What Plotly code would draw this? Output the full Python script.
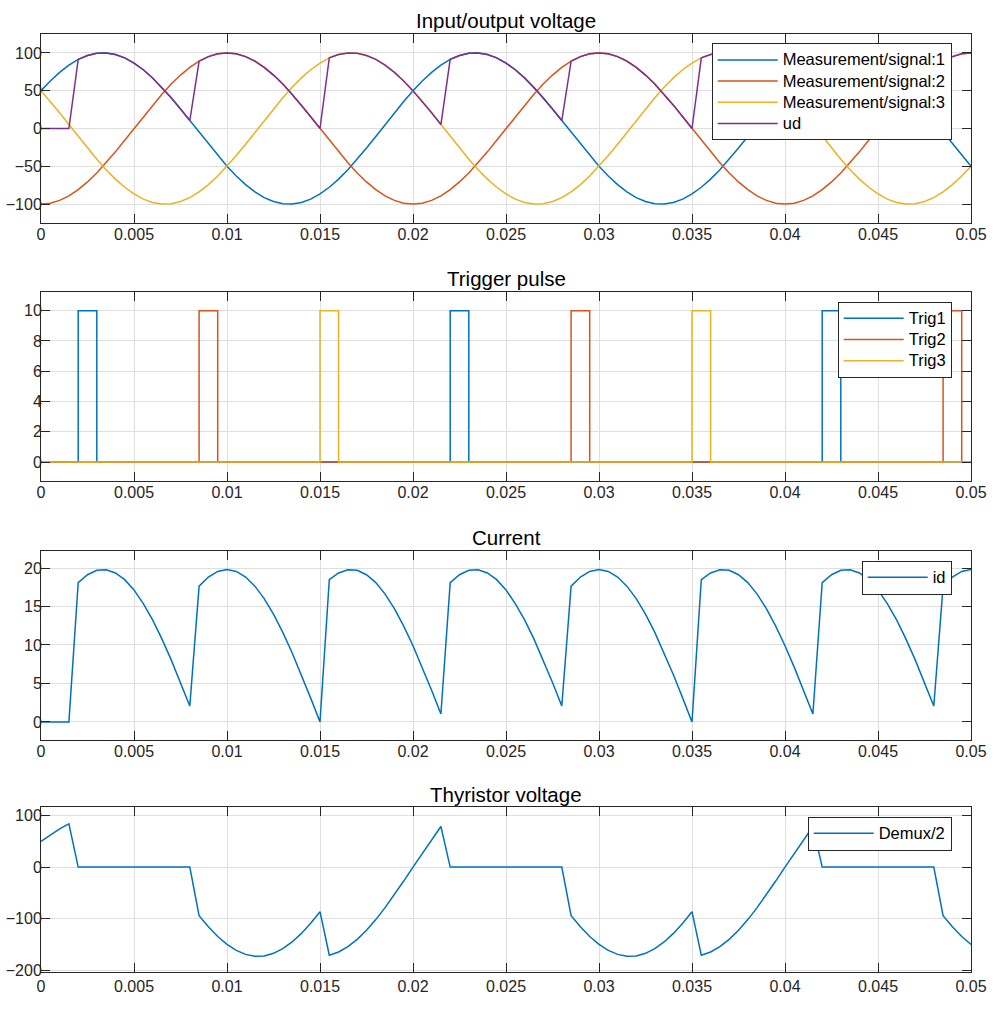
import plotly.graph_objects as go

# ---------------- data (sample time 0.0005 s) ----------------
t = [0.0, 0.0005, 0.001, 0.0015, 0.002, 0.0025, 0.003, 0.0035, 0.004, 0.0045,
     0.005, 0.0055, 0.006, 0.0065, 0.007, 0.0075, 0.008, 0.0085, 0.009, 0.0095,
     0.01, 0.0105, 0.011, 0.0115, 0.012, 0.0125, 0.013, 0.0135, 0.014, 0.0145,
     0.015, 0.0155, 0.016, 0.0165, 0.017, 0.0175, 0.018, 0.0185, 0.019, 0.0195,
     0.02, 0.0205, 0.021, 0.0215, 0.022, 0.0225, 0.023, 0.0235, 0.024, 0.0245,
     0.025, 0.0255, 0.026, 0.0265, 0.027, 0.0275, 0.028, 0.0285, 0.029, 0.0295,
     0.03, 0.0305, 0.031, 0.0315, 0.032, 0.0325, 0.033, 0.0335, 0.034, 0.0345,
     0.035, 0.0355, 0.036, 0.0365, 0.037, 0.0375, 0.038, 0.0385, 0.039, 0.0395,
     0.04, 0.0405, 0.041, 0.0415, 0.042, 0.0425, 0.043, 0.0435, 0.044, 0.0445,
     0.045, 0.0455, 0.046, 0.0465, 0.047, 0.0475, 0.048, 0.0485, 0.049, 0.0495,
     0.05]

sig1 = [50.0, 62.9, 74.3, 83.9, 91.4, 96.6, 99.5, 99.9, 97.8, 93.4,
        86.6, 77.7, 66.9, 54.5, 40.7, 25.9, 10.5, -5.2, -20.8, -35.8,
        -50.0, -62.9, -74.3, -83.9, -91.4, -96.6, -99.5, -99.9, -97.8, -93.4,
        -86.6, -77.7, -66.9, -54.5, -40.7, -25.9, -10.5, 5.2, 20.8, 35.8,
        50.0, 62.9, 74.3, 83.9, 91.4, 96.6, 99.5, 99.9, 97.8, 93.4,
        86.6, 77.7, 66.9, 54.5, 40.7, 25.9, 10.5, -5.2, -20.8, -35.8,
        -50.0, -62.9, -74.3, -83.9, -91.4, -96.6, -99.5, -99.9, -97.8, -93.4,
        -86.6, -77.7, -66.9, -54.5, -40.7, -25.9, -10.5, 5.2, 20.8, 35.8,
        50.0, 62.9, 74.3, 83.9, 91.4, 96.6, 99.5, 99.9, 97.8, 93.4,
        86.6, 77.7, 66.9, 54.5, 40.7, 25.9, 10.5, -5.2, -20.8, -35.8,
        -50.0]

sig2 = [-100.0, -98.8, -95.1, -89.1, -80.9, -70.7, -58.8, -45.4, -30.9, -15.6,
        0.0, 15.6, 30.9, 45.4, 58.8, 70.7, 80.9, 89.1, 95.1, 98.8,
        100.0, 98.8, 95.1, 89.1, 80.9, 70.7, 58.8, 45.4, 30.9, 15.6,
        0.0, -15.6, -30.9, -45.4, -58.8, -70.7, -80.9, -89.1, -95.1, -98.8,
        -100.0, -98.8, -95.1, -89.1, -80.9, -70.7, -58.8, -45.4, -30.9, -15.6,
        0.0, 15.6, 30.9, 45.4, 58.8, 70.7, 80.9, 89.1, 95.1, 98.8,
        100.0, 98.8, 95.1, 89.1, 80.9, 70.7, 58.8, 45.4, 30.9, 15.6,
        0.0, -15.6, -30.9, -45.4, -58.8, -70.7, -80.9, -89.1, -95.1, -98.8,
        -100.0, -98.8, -95.1, -89.1, -80.9, -70.7, -58.8, -45.4, -30.9, -15.6,
        0.0, 15.6, 30.9, 45.4, 58.8, 70.7, 80.9, 89.1, 95.1, 98.8,
        100.0]

sig3 = [50.0, 35.8, 20.8, 5.2, -10.5, -25.9, -40.7, -54.5, -66.9, -77.7,
        -86.6, -93.4, -97.8, -99.9, -99.5, -96.6, -91.4, -83.9, -74.3, -62.9,
        -50.0, -35.8, -20.8, -5.2, 10.5, 25.9, 40.7, 54.5, 66.9, 77.7,
        86.6, 93.4, 97.8, 99.9, 99.5, 96.6, 91.4, 83.9, 74.3, 62.9,
        50.0, 35.8, 20.8, 5.2, -10.5, -25.9, -40.7, -54.5, -66.9, -77.7,
        -86.6, -93.4, -97.8, -99.9, -99.5, -96.6, -91.4, -83.9, -74.3, -62.9,
        -50.0, -35.8, -20.8, -5.2, 10.5, 25.9, 40.7, 54.5, 66.9, 77.7,
        86.6, 93.4, 97.8, 99.9, 99.5, 96.6, 91.4, 83.9, 74.3, 62.9,
        50.0, 35.8, 20.8, 5.2, -10.5, -25.9, -40.7, -54.5, -66.9, -77.7,
        -86.6, -93.4, -97.8, -99.9, -99.5, -96.6, -91.4, -83.9, -74.3, -62.9,
        -50.0]

ud = [0.0, 0.0, 0.0, 0.0,
      91.4, 96.6, 99.5, 99.9, 97.8, 93.4, 86.6, 77.7, 66.9, 54.5, 40.7, 25.9, 10.5,
      89.1, 95.1, 98.8, 100.0, 98.8, 95.1, 89.1, 80.9, 70.7, 58.8, 45.4, 30.9, 15.6, 0.0,
      93.4, 97.8, 99.9, 99.5, 96.6, 91.4, 83.9, 74.3, 62.9, 50.0, 35.8, 20.8, 5.2,
      91.4, 96.6, 99.5, 99.9, 97.8, 93.4, 86.6, 77.7, 66.9, 54.5, 40.7, 25.9, 10.5,
      89.1, 95.1, 98.8, 100.0, 98.8, 95.1, 89.1, 80.9, 70.7, 58.8, 45.4, 30.9, 15.6, 0.0,
      93.4, 97.8, 99.9, 99.5, 96.6, 91.4, 83.9, 74.3, 62.9, 50.0, 35.8, 20.8, 5.2,
      91.4, 96.6, 99.5, 99.9, 97.8, 93.4, 86.6, 77.7, 66.9, 54.5, 40.7, 25.9, 10.5,
      89.1, 95.1, 98.8, 100.0]

trig1_t = [0.0, 0.002, 0.003, 0.022, 0.023, 0.042, 0.043, 0.05]
trig1_v = [0, 10, 0, 10, 0, 10, 0, 0]
trig2_t = [0.0, 0.0085, 0.0095, 0.0285, 0.0295, 0.0485, 0.0495, 0.05]
trig2_v = [0, 10, 0, 10, 0, 10, 0, 0]
trig3_t = [0.0, 0.015, 0.016, 0.035, 0.036, 0.05]
trig3_v = [0, 10, 0, 10, 0, 0]

id_ = [0.0, 0.0, 0.0, 0.0,
       18.1, 19.13, 19.7, 19.78, 19.36, 18.49, 17.15, 15.38, 13.25, 10.79, 8.06, 5.13, 2.08,
       17.64, 18.83, 19.56, 19.8, 19.56, 18.83, 17.64, 16.02, 14.0, 11.64, 8.99, 6.12, 3.09, 0.0,
       18.49, 19.36, 19.78, 19.7, 19.13, 18.1, 16.61, 14.71, 12.45, 9.9, 7.09, 4.12, 1.03,
       18.1, 19.13, 19.7, 19.78, 19.36, 18.49, 17.15, 15.38, 13.25, 10.79, 8.06, 5.13, 2.08,
       17.64, 18.83, 19.56, 19.8, 19.56, 18.83, 17.64, 16.02, 14.0, 11.64, 8.99, 6.12, 3.09, 0.0,
       18.49, 19.36, 19.78, 19.7, 19.13, 18.1, 16.61, 14.71, 12.45, 9.9, 7.09, 4.12, 1.03,
       18.1, 19.13, 19.7, 19.78, 19.36, 18.49, 17.15, 15.38, 13.25, 10.79, 8.06, 5.13, 2.08,
       17.64, 18.83, 19.56, 19.8]

vthy = [50.0, 62.9, 74.3, 83.9,
        0, 0, 0, 0, 0, 0, 0, 0, 0, 0, 0, 0, 0,
        -94.3, -115.9, -134.6, -150.0, -161.7, -169.4, -173.0, -172.3, -167.3, -158.3, -145.3, -128.7, -109.0, -86.6,
        -171.1, -164.7, -154.4, -140.2, -122.5, -101.9, -78.7, -53.5, -27.1, 0.0, 27.1, 53.5, 78.7,
        0, 0, 0, 0, 0, 0, 0, 0, 0, 0, 0, 0, 0,
        -94.3, -115.9, -134.6, -150.0, -161.7, -169.4, -173.0, -172.3, -167.3, -158.3, -145.3, -128.7, -109.0, -86.6,
        -171.1, -164.7, -154.4, -140.2, -122.5, -101.9, -78.7, -53.5, -27.1, 0.0, 27.1, 53.5, 78.7,
        0, 0, 0, 0, 0, 0, 0, 0, 0, 0, 0, 0, 0,
        -94.3, -115.9, -134.6, -150.0]

x_ticks = [0, 0.005, 0.01, 0.015, 0.02, 0.025, 0.03, 0.035, 0.04, 0.045, 0.05]
x_ticktext = ["0", "0.005", "0.01", "0.015", "0.02", "0.025", "0.03", "0.035", "0.04", "0.045", "0.05"]
titles = ["Input/output voltage", "Trigger pulse", "Current", "Thyristor voltage"]

# ---------------- style ----------------
C1, C2, C3, C4 = "#0072BD", "#D95319", "#EDB120", "#7E2F8E"
FONT = "Liberation Sans, Arial, Helvetica, sans-serif"
AX = "#262626"
GRID = "#dfdfdf"
LW = 1.5
W, H = 1003, 1031
LEGFS = 16.5


def lbl(name):
    return '<span style="font-size:%spx">%s</span>' % (LEGFS, name)


fig = go.Figure()


def add(x, y, name, color, ax, leg, shape="linear"):
    fig.add_trace(go.Scatter(x=x, y=y, name=lbl(name), mode="lines",
                             line=dict(color=color, width=LW, shape=shape),
                             xaxis="x" + ("" if ax == 1 else str(ax)),
                             yaxis="y" + ("" if ax == 1 else str(ax)),
                             legend=leg))


add(t, sig1, "Measurement/signal:1", C1, 1, "legend")
add(t, sig2, "Measurement/signal:2", C2, 1, "legend")
add(t, sig3, "Measurement/signal:3", C3, 1, "legend")
add(t, ud, "ud", C4, 1, "legend")
add(trig1_t, trig1_v, "Trig1", C1, 2, "legend2", "hv")
add(trig2_t, trig2_v, "Trig2", C2, 2, "legend2", "hv")
add(trig3_t, trig3_v, "Trig3", C3, 2, "legend2", "hv")
add(t, id_, "id", C1, 3, "legend3")
add(t, vthy, "Demux/2", C1, 4, "legend4")

# page pixel geometry of the four axes boxes (top, bottom)
boxes = [(34, 223), (291.7, 481), (550.7, 740), (807.3, 971.7)]
xl, xr = 41, 971
yranges = [[-125, 125], [-1.25, 11.25], [-2.35, 22.25], [-203, 116]]
yticks = [[-100, -50, 0, 50, 100], [0, 2, 4, 6, 8, 10], [0, 5, 10, 15, 20], [-200, -100, 0, 100]]
title_y = [20.5, 278.5, 537.5, 794.5]
legend_top = [43.3, 301.7, 560.7, 816.7]
legend_right = 951.7
x_standoff = [-3, -3, -3, 0]


def px(v):
    return v / W


def py(v):
    return 1 - v / H


layout = dict(width=W, height=H, margin=dict(l=0, r=0, t=0, b=0, autoexpand=False),
              paper_bgcolor="white", plot_bgcolor="white",
              font=dict(family=FONT, color=AX), annotations=[])

for i in range(4):
    s = "" if i == 0 else str(i + 1)
    top, bot = boxes[i]
    common = dict(showline=True, linecolor=AX, linewidth=1, mirror="ticks",
                  ticks="inside", ticklen=9, tickwidth=1, tickcolor=AX,
                  showgrid=True, gridcolor=GRID, gridwidth=1, zeroline=False,
                  automargin=False,
                  tickfont=dict(family=FONT, size=16, color=AX))
    layout["xaxis" + s] = dict(common, domain=[px(xl), px(xr)], range=[0, 0.05],
                               tickvals=x_ticks, ticktext=x_ticktext,
                               ticklabelstandoff=x_standoff[i], anchor="y" + s)
    layout["yaxis" + s] = dict(common, domain=[py(bot), py(top)],
                               range=yranges[i], tickvals=yticks[i],
                               ticklabelstandoff=-5, anchor="x" + s)
    layout["legend" + s] = dict(
        x=px(legend_right), y=py(legend_top[i]), xanchor="right", yanchor="top",
        xref="paper", yref="paper",
        bgcolor="white", bordercolor=AX, borderwidth=1,
        font=dict(family=FONT, size=14, color="black"),
        itemwidth=60, tracegroupgap=0)
    layout["annotations"].append(dict(
        text=titles[i], x=px((xl + xr) / 2), y=py(title_y[i]),
        xref="paper", yref="paper", xanchor="center", yanchor="middle",
        showarrow=False, font=dict(family=FONT, size=20.5, color="black")))

fig.update_layout(layout)
fig.write_html("out.html", config={"displayModeBar": False},
               post_script="document.body.style.margin='0';document.body.style.overflow='hidden';")
